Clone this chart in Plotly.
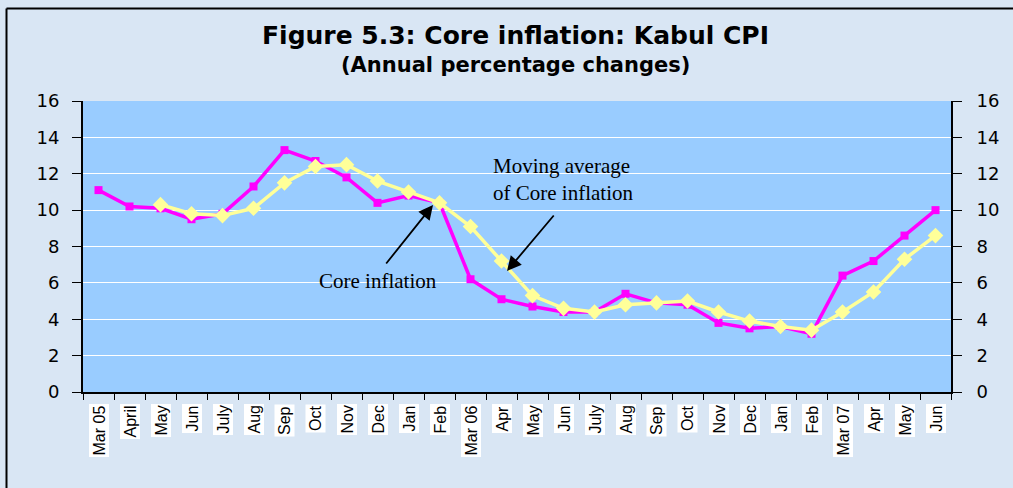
import plotly.graph_objects as go

categories = ["Mar 05", "April", "May", "Jun", "July", "Aug", "Sep", "Oct", "Nov", "Dec", "Jan", "Feb",
              "Mar 06", "Apr", "May ", "Jun ", "July ", "Aug ", "Sep ", "Oct ", "Nov ", "Dec ", "Jan ", "Feb ",
              "Mar 07", "Apr ", "May  ", "Jun  "]
core_inflation = [11.1, 10.2, 10.1, 9.5, 9.8, 11.3, 13.3, 12.7, 11.8, 10.4, 10.8, 10.4,
                  6.2, 5.1, 4.7, 4.4, 4.4, 5.4, 4.9, 4.8, 3.8, 3.5, 3.6, 3.2,
                  6.4, 7.2, 8.6, 10.0]
moving_average = [None, None, 10.3, 9.8, 9.7, 10.1, 11.5, 12.4, 12.5, 11.6, 11.0, 10.4,
                  9.1, 7.2, 5.3, 4.6, 4.4, 4.8, 4.9, 5.0, 4.4, 3.9, 3.6, 3.4,
                  4.4, 5.5, 7.3, 8.6]
y_ticks = [0, 2, 4, 6, 8, 10, 12, 14, 16]

W, H = 1013, 488
L, R, T, B = 83, 951, 101, 392

def px(x):
    return (x - L) / (R - L)

def py(y):
    return (B - y) / (B - T)

fig = go.Figure()
fig.add_trace(go.Scatter(x=categories, y=core_inflation, mode="lines+markers",
                         line=dict(color="#ff00ff", width=3.5),
                         marker=dict(symbol="square", size=8, color="#ff00ff"),
                         name="Core inflation", showlegend=False))
fig.add_trace(go.Scatter(x=categories, y=moving_average, mode="lines+markers",
                         line=dict(color="#ffff99", width=3.5),
                         marker=dict(symbol="diamond", size=12, color="#ffff99"),
                         name="Moving average", showlegend=False, yaxis="y2"))

annotations = []
for c in categories:
    annotations.append(dict(x=c, y=0, xref="x", yref="paper", yanchor="top", xanchor="center",
                            yshift=-12, text=c.strip(), textangle=-90, showarrow=False,
                            bgcolor="white", borderpad=1,
                            font=dict(family="Liberation Sans", size=16, color="black")))

annotations.append(dict(x=px(378), y=py(281), xref="paper", yref="paper", xanchor="center",
                        yanchor="middle", text="Core inflation",
                        showarrow=False, font=dict(family="Liberation Serif", size=21, color="black")))
annotations.append(dict(x=px(491), y=py(179), xref="paper", yref="paper", xanchor="left",
                        yanchor="middle", align="left",
                        text="Moving average<br>of Core inflation",
                        showarrow=False, font=dict(family="Liberation Serif", size=21, color="black")))

# arrows: head (x, y), tail offsets in pixels
annotations.append(dict(x=px(433), y=py(205), ax=385 - 433, ay=265 - 205, xref="paper", yref="paper",
                        axref="pixel", ayref="pixel", showarrow=True, arrowhead=2, arrowsize=1.6,
                        arrowwidth=1.8, arrowcolor="black", text=""))
annotations.append(dict(x=px(507), y=py(271), ax=555 - 507, ay=214 - 271, xref="paper", yref="paper",
                        axref="pixel", ayref="pixel", showarrow=True, arrowhead=2, arrowsize=1.6,
                        arrowwidth=1.8, arrowcolor="black", text=""))

annotations.append(dict(x=px(515), y=py(36), xref="paper", yref="paper", showarrow=False,
                        xanchor="center", yanchor="middle",
                        text="<b>Figure 5.3: Core inflation: Kabul CPI</b>",
                        font=dict(family="DejaVu Sans", size=25, color="black")))
annotations.append(dict(x=px(515), y=py(65), xref="paper", yref="paper", showarrow=False,
                        xanchor="center", yanchor="middle",
                        text="<b>(Annual percentage changes)</b>",
                        font=dict(family="DejaVu Sans", size=21, color="black")))

shapes = [
    dict(type="line", xref="paper", yref="paper", x0=px(6.5), x1=px(6.5), y0=py(8.5), y1=py(488),
         line=dict(color="black", width=2)),
    dict(type="line", xref="paper", yref="paper", x0=px(6.5), x1=px(1013), y0=py(8.5), y1=py(8.5),
         line=dict(color="black", width=2)),
]

tickfont = dict(family="DejaVu Sans", size=18, color="black")
fig.update_layout(
    width=W, height=H,
    margin=dict(l=L, r=W - R, t=T, b=H - B),
    paper_bgcolor="#d9e6f4",
    plot_bgcolor="#99ccff",
    xaxis=dict(type="category", showticklabels=False, ticks="outside", ticklen=6, tickcolor="black",
               tickson="boundaries", showline=True, linecolor="black", linewidth=2, showgrid=False,
               zeroline=False, range=[-0.5, len(categories) - 0.5]),
    yaxis=dict(range=[0, 16], tickvals=y_ticks, ticks="outside", ticklen=9, tickcolor="black",
               showline=True, linecolor="black", linewidth=2, gridcolor="white", gridwidth=1.2,
               zeroline=False, tickfont=tickfont, ticklabelstandoff=9),
    yaxis2=dict(range=[0, 16], tickvals=y_ticks, ticks="outside", ticklen=9, tickcolor="black",
                overlaying="y", side="right", showline=True, linecolor="black", linewidth=2,
                showgrid=False, zeroline=False, tickfont=tickfont, ticklabelstandoff=11),
    annotations=annotations,
    shapes=shapes,
)

fig.write_html("out.html", config={"displayModeBar": False},
               post_script="document.body.style.margin='0';document.body.style.overflow='hidden';")
